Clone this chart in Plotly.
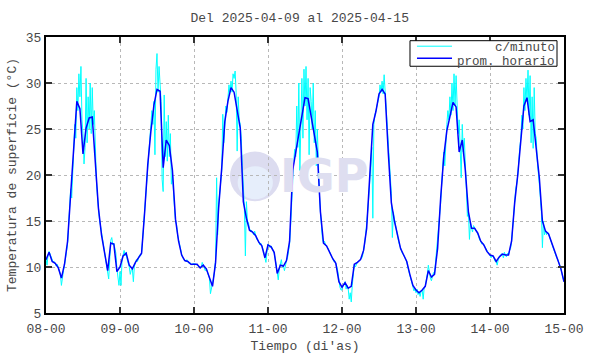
import plotly.graph_objects as go

# ---- data -------------------------------------------------------------
day_labels = ["08-00", "09-00", "10-00", "11-00", "12-00", "13-00", "14-00", "15-00"]
day_hours = [0, 24, 48, 72, 96, 120, 144, 168]

# hourly mean (prom. horario), one value per hour from 08-00 to 15-00
hourly_temp = [
    10.8, 11.6, 10.6, 10.4, 9.9, 8.8, 10.3, 12.8, 17.9, 22.9, 28.0, 27.2,
    22.3, 25.1, 26.2, 26.3, 21.5, 16.4, 13.5, 11.3, 9.6, 12.6, 12.5, 9.5,
    10.0, 11.2, 11.5, 10.2, 9.8, 10.5, 11.0, 11.5, 16.0, 21.1, 24.7, 27.6,
    29.3, 29.1, 20.8, 23.8, 23.2, 20.5, 15.2, 12.8, 11.3, 10.7, 10.6, 10.3,
    10.3, 10.3, 9.9, 10.2, 9.8, 8.8, 7.9, 10.5, 16.5, 20.8, 25.8, 28.0,
    29.5, 29.0, 27.0, 25.1, 17.1, 15.3, 14.0, 13.8, 13.4, 12.7, 12.3, 11.0,
    12.4, 12.2, 11.6, 9.3, 10.2, 10.1, 10.7, 12.8, 20.5, 22.6, 24.3, 26.3,
    28.4, 28.3, 26.5, 24.4, 22.5, 16.0, 12.6, 12.3, 11.6, 10.9, 10.4, 8.4,
    7.8, 8.3, 7.7, 7.9, 10.3, 10.5, 10.8, 11.8, 14.2, 19.5, 25.5, 26.9,
    28.8, 29.3, 28.8, 22.5, 17.0, 15.0, 13.3, 12.0, 11.3, 10.6, 9.2, 8.0,
    7.5, 7.2, 7.5, 7.9, 9.6, 8.9, 9.2, 12.0, 17.5, 22.0, 24.8, 26.5,
    27.9, 27.4, 22.5, 23.8, 20.5, 16.0, 14.2, 14.2, 13.7, 12.8, 12.4, 11.7,
    11.3, 11.2, 10.6, 11.1, 11.4, 11.3, 11.3, 12.8, 17.0, 20.0, 24.0, 27.5,
    28.4, 25.8, 26.0, 23.0, 19.7, 15.0, 13.9, 13.6, 12.6, 11.6, 10.8, 9.8,
    8.4,
]

# per-minute record (c/minuto), read at 20-minute steps
minute_temp_d1 = [
    10.9, 10.2, 11.3, 11.7, 11.4, 11.0, 10.7, 10.5, 10.6, 10.4, 10.1, 10.3,
    9.9, 9.5, 9.2, 8.0, 9.0, 9.6, 10.2, 11.0, 11.8, 12.5, 14.5, 16.0,
    18.5, 17.5, 21.0, 23.0, 25.5, 24.0, 29.5, 27.0, 31.0, 28.5, 31.8, 26.0,
    24.5, 21.2, 23.0, 30.5, 23.5, 28.5, 25.0, 30.0, 24.5, 29.5, 25.5, 27.0,
    22.0, 19.5, 17.8, 16.0, 15.2, 14.5, 13.8, 13.0, 12.2, 11.5, 11.0, 10.5,
    9.8, 8.7, 10.8, 12.9, 13.2, 12.4, 12.6, 12.2, 11.5, 9.8, 9.0, 8.0,
]
minute_temp_d2 = [
    9.5, 8.0, 10.8, 11.5, 11.8, 11.2, 11.6, 10.8, 10.4, 10.0, 9.2, 9.7,
    9.8, 8.4, 10.1, 10.5, 10.8, 10.6, 11.0, 11.3, 11.2, 11.6, 13.0, 14.5,
    16.5, 18.0, 19.5, 21.5, 22.5, 23.5, 25.0, 27.0, 25.5, 28.0, 22.2, 31.5,
    33.2, 29.0, 31.8, 30.0, 28.0, 19.5, 18.2, 28.7, 22.0, 25.8, 21.5, 26.5,
    22.0, 24.5, 19.0, 20.0, 17.5, 16.5, 15.0, 14.6, 13.5, 12.9, 12.3, 11.8,
    11.4, 11.0, 10.9, 10.7, 10.6, 10.8, 10.6, 10.4, 10.5, 10.3, 10.2, 10.4,
]
minute_temp_d3 = [
    10.3, 10.4, 10.2, 10.3, 10.1, 10.0, 9.9, 10.0, 10.5, 10.2, 9.9, 9.6,
    9.8, 9.4, 9.0, 8.8, 7.1, 7.6, 8.0, 8.8, 9.5, 10.8, 19.7, 13.5,
    16.8, 18.0, 19.0, 20.5, 26.6, 23.5, 25.5, 27.5, 26.8, 28.5, 29.8, 29.0,
    30.2, 29.0, 31.0, 30.5, 31.3, 29.0, 22.6, 28.5, 26.0, 25.5, 24.0, 21.0,
    18.0, 16.5, 11.2, 17.1, 15.0, 14.8, 14.2, 13.8, 14.0, 13.7, 13.5, 13.9,
    13.4, 13.0, 12.9, 12.8, 12.4, 12.6, 12.3, 12.0, 11.6, 11.0, 10.5, 11.6,
]
minute_temp_d4 = [
    12.5, 12.3, 12.1, 12.3, 12.0, 11.8, 11.5, 10.9, 10.0, 9.2, 8.6, 9.8,
    10.4, 10.8, 10.0, 10.1, 9.6, 10.3, 10.7, 11.0, 11.6, 12.5, 14.5, 17.5,
    20.0, 21.5, 22.8, 22.0, 27.5, 23.0, 30.0, 20.5, 25.5, 30.5, 24.0, 31.5,
    27.5, 31.8, 26.0, 30.5, 22.2, 29.5, 28.0, 25.0, 30.0, 23.5, 27.0, 21.0,
    25.0, 20.5, 18.0, 16.0, 13.7, 13.0, 12.6, 12.8, 12.4, 12.3, 12.1, 11.9,
    11.6, 11.2, 11.1, 10.9, 10.6, 10.7, 10.4, 10.0, 9.5, 8.4, 7.8, 7.5,
]
minute_temp_d5 = [
    7.5, 8.0, 8.2, 8.4, 7.6, 8.0, 7.7, 6.5, 7.2, 6.2, 8.0, 9.0,
    10.3, 10.0, 10.4, 10.5, 10.6, 10.7, 10.8, 10.9, 11.2, 11.8, 12.5, 13.5,
    14.5, 16.0, 17.5, 19.0, 21.5, 23.0, 15.3, 25.5, 26.5, 27.0, 27.5, 28.0,
    28.5, 29.8, 29.0, 30.2, 28.8, 30.9, 29.0, 28.0, 26.0, 24.0, 21.0, 19.5,
    18.0, 13.2, 16.0, 15.2, 14.5, 14.0, 13.4, 12.8, 12.4, 12.0, 11.6, 11.4,
    11.3, 11.0, 10.8, 10.6, 10.0, 9.6, 9.2, 8.8, 8.4, 8.0, 7.4, 7.6,
]
minute_temp_d6 = [
    7.2, 7.6, 7.0, 7.3, 6.8, 7.4, 7.5, 6.5, 7.8, 7.9, 8.5, 9.2,
    10.2, 9.4, 8.8, 8.5, 9.0, 9.4, 9.2, 10.5, 11.0, 12.5, 14.0, 15.5,
    17.0, 19.0, 20.5, 22.5, 21.0, 24.5, 25.5, 27.0, 26.0, 28.5, 26.5, 30.0,
    27.0, 31.0, 27.5, 30.8, 27.0, 24.5, 26.0, 22.0, 19.7, 25.5, 22.5, 24.0,
    20.0, 18.5, 15.5, 16.0, 13.0, 14.8, 14.3, 13.8, 14.5, 14.2, 14.0, 13.8,
    13.7, 13.2, 12.9, 12.8, 12.5, 12.6, 12.4, 12.1, 12.0, 11.7, 11.5, 11.4,
]
minute_temp_d7 = [
    11.3, 11.0, 11.2, 11.2, 10.9, 10.6, 10.6, 10.2, 10.8, 11.1, 11.3, 11.4,
    11.4, 11.0, 11.6, 11.3, 11.1, 11.5, 11.3, 11.8, 12.0, 12.8, 14.0, 15.5,
    17.0, 18.5, 19.0, 20.0, 22.0, 23.0, 24.0, 26.5, 25.0, 29.5, 27.0, 30.5,
    28.0, 31.4, 26.5, 30.8, 23.5, 28.5, 22.9, 29.5, 24.5, 24.0, 21.5, 20.5,
    19.0, 17.5, 16.0, 12.1, 15.0, 13.5, 14.0, 13.5, 13.8, 13.6, 13.2, 12.9,
    12.6, 12.2, 11.9, 11.6, 11.2, 11.0, 10.8, 10.5, 10.2, 9.8, 9.3, 8.8,
    8.4,
]

title_text = "Del 2025-04-09 al 2025-04-15"
x_title = "Tiempo (di'as)"
y_title = "Temperatura de superficie (°C)"
minute_name = "c/minuto"
hourly_name = "prom. horario"

# ---- figure -----------------------------------------------------------
minute_temp = (minute_temp_d1 + minute_temp_d2 + minute_temp_d3 + minute_temp_d4
               + minute_temp_d5 + minute_temp_d6 + minute_temp_d7)
minute_hours = [i / 3 for i in range(len(minute_temp))]
hourly_hours = list(range(len(hourly_temp)))

FONT = "Liberation Mono"
TXT = "#484848"
CYAN = "#00ffff"
BLUE = "#0000ff"

fig = go.Figure()
fig.add_trace(go.Scatter(
    x=minute_hours, y=minute_temp, mode="lines", name=minute_name,
    line=dict(color=CYAN, width=1), showlegend=False,
))
fig.add_trace(go.Scatter(
    x=hourly_hours, y=hourly_temp, mode="lines", name=hourly_name,
    line=dict(color=BLUE, width=1.5), showlegend=False,
))

# faint IGP watermark
fig.add_shape(type="circle", xref="paper", yref="paper",
              x0=0.355, x1=0.452, y0=0.405, y1=0.585,
              fillcolor="#dcdcf0", line=dict(width=0), layer="below")
fig.add_shape(type="circle", xref="paper", yref="paper",
              x0=0.370, x1=0.438, y0=0.412, y1=0.532,
              fillcolor="#e6eefb", line=dict(width=0), layer="below")
fig.add_annotation(text="<b>IGP</b>", xref="paper", yref="paper",
                   x=0.537, y=0.495, showarrow=False,
                   font=dict(family="DejaVu Sans", size=46, color="#dedef0"))

# legend box drawn in gnuplot style (text right-aligned)
fig.add_shape(type="rect", xref="paper", yref="paper",
              x0=0.7027, x1=0.9865, y0=0.894, y1=0.9866,
              fillcolor="white", line=dict(color="black", width=1), layer="above")
legend_rows = [(minute_name, CYAN, 1.0, 0.9667, 0.9595),
               (hourly_name, BLUE, 1.5, 0.9232, 0.9105)]
for label, col, w, yline, ytext in legend_rows:
    fig.add_shape(type="line", xref="paper", yref="paper",
                  x0=0.7162, x1=0.7838, y0=yline, y1=yline,
                  line=dict(color=col, width=w), layer="above")
    fig.add_annotation(text=label, xref="paper", yref="paper",
                       x=0.9846, y=ytext, xanchor="right", yanchor="middle",
                       showarrow=False, height=12, borderpad=0,
                       font=dict(family=FONT, size=12.5, color=TXT))

axis_common = dict(
    automargin=False,
    showline=True, linecolor="black", linewidth=2, mirror="ticks",
    ticks="inside", ticklen=6, tickcolor="#333", tickwidth=1.5,
    showgrid=True, gridcolor="#b8b8b8", griddash="dot", gridwidth=1,
    zeroline=False,
    tickfont=dict(family=FONT, size=13, color=TXT),
)

fig.update_layout(
    width=590, height=354,
    margin=dict(l=46, r=26, t=37, b=41),
    paper_bgcolor="white", plot_bgcolor="white",
    title=dict(text=title_text, x=0.508, xanchor="center", y=0.95, yanchor="middle",
               font=dict(family=FONT, size=13, color=TXT)),
    showlegend=False,
    xaxis=dict(range=[0, 168], tickvals=day_hours, ticktext=day_labels,
               ticklabelstandoff=2,
               title=dict(text=x_title, standoff=6,
                          font=dict(family=FONT, size=13, color=TXT)),
               **axis_common),
    yaxis=dict(range=[5, 35], dtick=5, tick0=5,
               title=dict(text=y_title, standoff=6,
                          font=dict(family=FONT, size=13, color=TXT)),
               **axis_common),
)

fig.write_html("out.html")
